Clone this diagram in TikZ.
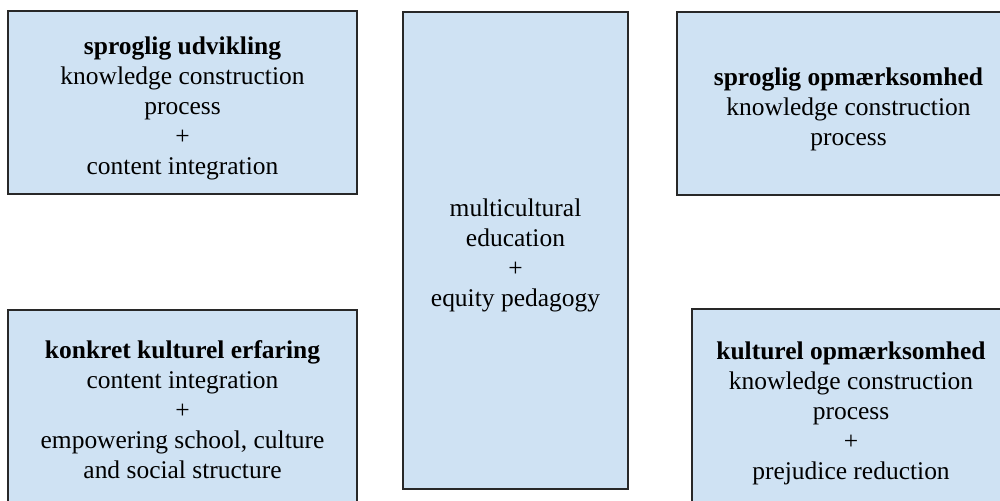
\documentclass[tikz,border=0pt]{standalone}
\usepackage{fontspec}
\setmainfont{Liberation Serif}
\usepackage{tikz}
\definecolor{boxblue}{RGB}{207,226,243}
\definecolor{boxedge}{RGB}{40,40,40}
\tikzset{
  topicbox/.style={rectangle,draw=boxedge,line width=1pt,fill=boxblue,inner sep=0pt},
  topictext/.style={align=center,inner sep=0pt,font=\fontsize{14.5}{17.1}\selectfont}
}

\begin{document}
\begin{tikzpicture}
  \clip (0,0) rectangle (20,-10.02);
  % boxes
  \node[topicbox,minimum width=6.98cm,minimum height=3.66cm] (sprogud) at (3.65,-2.05) {};
  \node[topicbox,minimum width=4.5cm,minimum height=9.54cm] (multi) at (10.31,-5.01) {};
  \node[topicbox,minimum width=6.86cm,minimum height=3.66cm] (sprogop) at (16.97,-2.07) {};
  \node[topicbox,minimum width=6.98cm,minimum height=4cm] (konkret) at (3.65,-8.2) {};
  \node[topicbox,minimum width=6.36cm,minimum height=4.04cm] (kultop) at (17.02,-8.2) {};
  % labels
  \node[topictext] (sprogudtxt) at ([yshift=-0.12cm]sprogud.center)
    {\textbf{sproglig udvikling}\\knowledge construction\\process\\+\\content integration};
  \node[topictext] (multitxt) at ([yshift=-0.1cm]multi.center)
    {multicultural\\education\\+\\equity pedagogy};
  \node[topictext] (sprogoptxt) at ([yshift=-0.12cm]sprogop.center)
    {\textbf{sproglig opmærksomhed}\\knowledge construction\\process};
  \node[topictext] (konkrettxt) at (konkret.center)
    {\textbf{konkret kulturel erfaring}\\content integration\\+\\empowering school, culture\\and social structure};
  \node[topictext] (kultoptxt) at ([yshift=-0.06cm]kultop.center)
    {\textbf{kulturel opmærksomhed}\\knowledge construction\\process\\+\\prejudice reduction};
\end{tikzpicture}
\end{document}
